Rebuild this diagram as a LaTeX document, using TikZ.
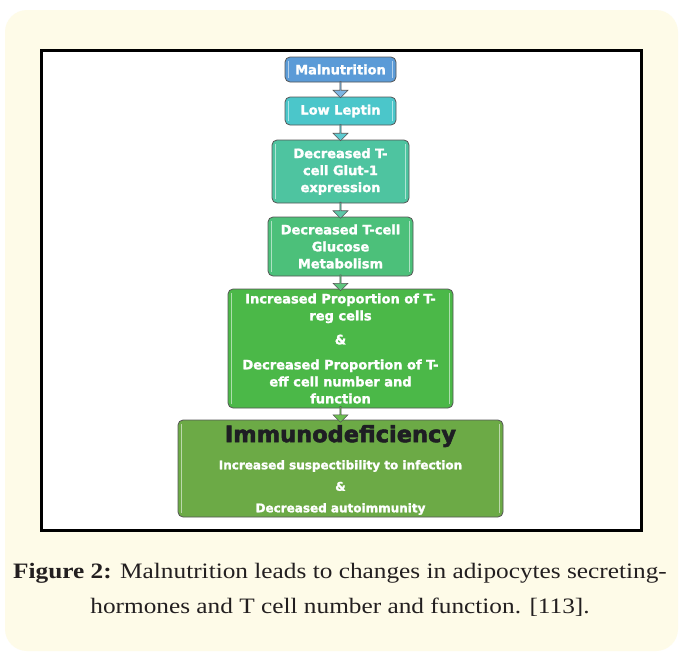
\documentclass[tikz,border=0pt]{standalone}
\usepackage{fontspec}
\setmainfont{Liberation Serif}[FakeStretch=1.15]
\newfontfamily\boxfont{DejaVu Sans Bold}[FakeBold=1.6]
\newfontfamily\titlefont{DejaVu Sans Bold}[FakeBold=2.4]
\usetikzlibrary{shapes.arrows,calc}
\definecolor{cream}{RGB}{254,251,232}
\definecolor{edge}{RGB}{85,85,85}
\definecolor{cA}{RGB}{91,155,215}
\definecolor{cB}{RGB}{75,198,202}
\definecolor{cC}{RGB}{78,196,160}
\definecolor{cD}{RGB}{76,192,122}
\definecolor{cE}{RGB}{75,184,72}
\definecolor{cF}{RGB}{108,170,70}
\definecolor{aA}{RGB}{125,181,227}
\definecolor{aB}{RGB}{92,203,208}
\definecolor{aC}{RGB}{92,200,168}
\definecolor{aD}{RGB}{93,198,126}
\definecolor{aE}{RGB}{108,191,80}
\definecolor{captxt}{RGB}{35,31,32}
\definecolor{darktxt}{RGB}{30,30,35}
\tikzset{
  stage/.style={draw=edge, line width=0.8pt, rounded corners=5pt, text=white,
    font=\boxfont\fontsize{13}{17}\selectfont, align=center, inner sep=0pt,
    path picture={\draw[sharp corners, line width=1.3pt, draw=white, draw opacity=0.55]
      ([xshift=3.5pt,yshift=-4pt]path picture bounding box.north west) --
      ([xshift=3.5pt,yshift=4pt]path picture bounding box.south west)
      ([xshift=-3.5pt,yshift=-4pt]path picture bounding box.north east) --
      ([xshift=-3.5pt,yshift=4pt]path picture bounding box.south east);}},
  flow/.style={single arrow, draw=edge, line width=0.6pt, shape border rotate=270,
    minimum width=15pt, single arrow head extend=3.5pt, single arrow tip angle=90,
    inner sep=0pt, minimum height=16pt},
  captext/.style={text=captxt, font=\fontsize{22}{26}\selectfont, inner sep=0pt}
}
\begin{document}
\begin{tikzpicture}[x=1pt,y=-1pt]
\useasboundingbox (0,0) rectangle (680,656);
\fill[white] (0,0) rectangle (680,656);
\fill[cream, rounded corners=22pt] (5,10) rectangle (678,651);
\draw[line width=3pt, fill=white] (41,50) rectangle (641,530);

\node[stage, fill=cA, minimum width=111pt, minimum height=25pt] (b1) at (340.5,69.5) {Malnutrition};
\node[stage, fill=cB, minimum width=111pt, minimum height=28pt] (b2) at (340.5,111) {Low Leptin};
\node[stage, fill=cC, minimum width=137pt, minimum height=63pt] (b3) at (340.5,171.5) {Decreased T-\\cell Glut-1\\expression};
\node[stage, fill=cD, minimum width=145pt, minimum height=59pt] (b4) at (340.5,246.5) {Decreased T-cell\\Glucose\\Metabolism};
\node[stage, fill=cE, minimum width=225pt, minimum height=119pt] (b5) at (340.5,348.5) {Increased Proportion of T-\\reg cells\\[7pt]\&\\[8pt]Decreased Proportion of T-\\eff cell number and\\function};
\node[stage, fill=cF, minimum width=325pt, minimum height=97pt] (b6) at (340.5,468.5) {};
\node[text=darktxt, font=\titlefont\fontsize{22.5}{27}\selectfont, inner sep=0pt] (b6t) at (340.5,436) {Immunodeficiency};
\node[text=white, font=\boxfont\fontsize{12}{21.5}\selectfont, align=center, inner sep=0pt] (b6b) at (340.5,487.5) {Increased suspectibility to infection\\\&\\Decreased autoimmunity};

\node[flow, fill=aA] (f1) at ($(b1.south)!0.5!(b2.north)$) {};
\node[flow, fill=aB] (f2) at ($(b2.south)!0.5!(b3.north)$) {};
\node[flow, fill=aC] (f3) at ($(b3.south)!0.5!(b4.north)$) {};
\node[flow, fill=aD] (f4) at ($(b4.south)!0.5!(b5.north)$) {};
\node[flow, fill=aE] (f5) at ($(b5.south)!0.5!(b6.north)$) {};

\node[captext] (cap1) at (340,573) {\textbf{Figure 2:} Malnutrition leads to changes in adipocytes secreting-};
\node[captext] (cap2) at (340,607) {hormones and T cell number and function. [113].};
\end{tikzpicture}
\end{document}
